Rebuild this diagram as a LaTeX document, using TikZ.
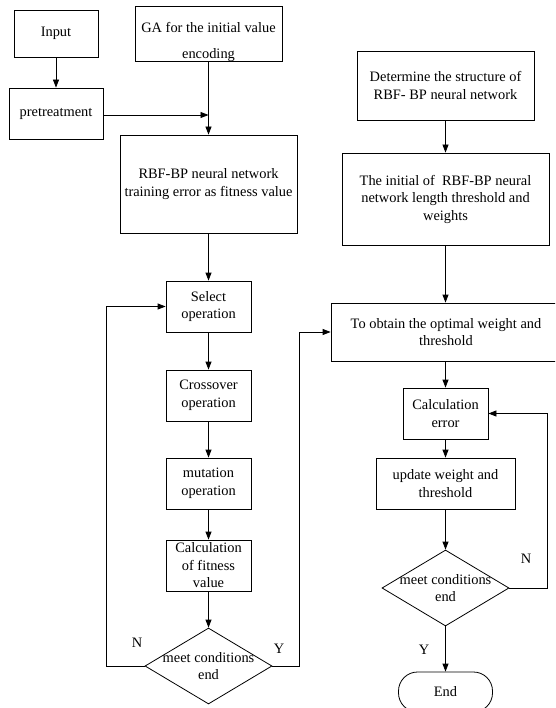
\documentclass[tikz,border=0pt]{standalone}
\usepackage{fontspec}
\setmainfont{Liberation Serif}
\usetikzlibrary{arrows.meta,shapes.geometric}
\begin{document}
\begin{tikzpicture}[x=1pt,y=-1pt,
  every node/.style={font=\fontsize{14.4}{17.5}\selectfont, inner sep=0pt, align=center},
  box/.style={draw, line width=0.8pt, minimum width=#1},
  dia/.style={draw, line width=0.8pt, shape=diamond, minimum width=127pt, minimum height=76pt},
  arr/.style={line width=0.8pt, -{Triangle[length=8pt,width=6pt]}},
  lbl/.style={font=\fontsize{14.4}{17}\selectfont}]
\clip (0,0) rectangle (555,708);
\fill[white] (0,0) rectangle (555,708);
% left column
\node[box=84pt, minimum height=47pt] (inp) at (56,33.5) {Input};
\node[box=94pt, minimum height=51pt] (pre) at (56,113.5) {pretreatment};
\node[box=147pt, minimum height=55pt] (ga) at (208.5,33.5) {};
\node at ([yshift=-8pt]ga.center) {GA for the initial value\\[8.5pt]encoding};
\node[box=177pt, minimum height=98pt] (rbf) at (208.5,184) {RBF-BP neural network\\training error as fitness value};
\node[box=85pt, minimum height=51pt] (sel) at (208.5,306.5) {Select\\operation};
\node[box=85pt, minimum height=51pt] (cro) at (208.5,395.5) {Crossover\\operation};
\node[box=85pt, minimum height=51pt] (mut) at (208.5,483.5) {mutation\\operation};
\node[box=85pt, minimum height=51pt] (fit) at (208.5,565.5) {Calculation\\of fitness\\value};
\node[dia] (d1) at (208.5,666) {};
\node at (d1.center) {meet conditions\\end};
\coordinate (j1) at (208.5,115);
% right column
\node[box=177pt, minimum height=69pt] (det) at (445.5,85.5) {Determine the structure of\\RBF- BP neural network};
\node[box=207pt, minimum height=92pt] (ini) at (445.5,199) {The initial of \ RBF-BP neural\\network length threshold and\\weights};
\node[box=230pt, minimum height=58pt] (obt) at (446,332) {To obtain the optimal weight and\\threshold};
\node[box=85pt, minimum height=51pt] (cer) at (445.5,413.5) {Calculation\\error};
\node[box=139pt, minimum height=51pt] (upd) at (445.5,483.5) {update weight and\\threshold};
\node[dia] (d2) at (445.5,588) {};
\node at (d2.center) {meet conditions\\end};
\node[draw, line width=0.8pt, rounded corners=19pt, minimum width=94pt, minimum height=40pt] (end) at (445.5,692) {End};
% connectors left
\draw[arr] (inp) -- (pre);
\draw[arr] (ga) -- (rbf);
\draw[arr] (pre.east |- j1) -- (j1);
\draw[arr] (rbf) -- (sel);
\draw[arr] (sel) -- (cro);
\draw[arr] (cro) -- (mut);
\draw[arr] (mut) -- (fit);
\draw[arr] (fit) -- (d1);
\draw[arr] (d1.west) -- ++(-38,0) |- (sel.west);
\draw[arr] (d1.east) -- ++(27,0) |- (obt.west);
\node[lbl] at (137,643) {N};
\node[lbl] at (279,649) {Y};
% connectors right
\draw[arr] (det) -- (ini);
\draw[arr] (ini) -- (obt.north -| ini.south);
\draw[arr] (obt.south -| cer.north) -- (cer);
\draw[arr] (cer) -- (upd);
\draw[arr] (upd) -- (d2);
\draw[arr] (d2.east) -- ++(38,0) |- (cer.east);
\draw[arr] (d2) -- (end);
\node[lbl] at (526,559) {N};
\node[lbl] at (424,650) {Y};
\end{tikzpicture}
\end{document}
